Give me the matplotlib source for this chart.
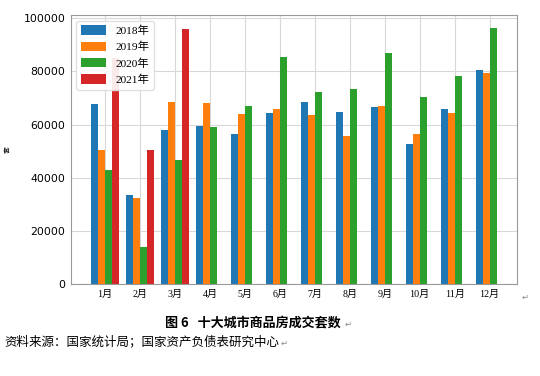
import matplotlib.pyplot as plt
import numpy as np

months = ['1月', '2月', '3月', '4月', '5月', '6月', '7月', '8月', '9月', '10月', '11月', '12月']
years = ['2018年', '2019年', '2020年', '2021年']
v2018 = [67800, 33500, 58000, 59600, 56500, 64500, 68300, 64600, 66700, 52700, 65800, 80600]
v2019 = [50500, 32300, 68600, 68000, 63800, 65700, 63400, 55500, 66800, 56300, 64400, 79400]
v2020 = [43000, 14000, 46600, 59000, 66800, 85500, 72300, 73500, 87000, 70200, 78400, 96400]
v2021 = [85000, 50300, 96000]

cjk = ['Noto Sans CJK SC', 'DejaVu Sans']
serif_cjk = ['Liberation Serif', 'Noto Sans CJK SC', 'DejaVu Sans']

fig = plt.figure(figsize=(5.4, 3.76), dpi=100)
ax = fig.add_axes([0.131, 0.245, 0.826, 0.715])

x = np.arange(len(months))
w = 0.2
series = [v2018, v2019, v2020, v2021]
colors = ['#1f77b4', '#ff7f0e', '#2ca02c', '#d62728']
for i, vals in enumerate(series):
    xi = x[:len(vals)] + (i - 1.5) * w
    ax.bar(xi, vals, w, color=colors[i], label=years[i], zorder=2)

ax.set_xticks(x)
ax.set_xticklabels(months, family=serif_cjk, fontsize=7.2)
ax.tick_params(axis='y', labelsize=7.8)
ax.tick_params(length=0, pad=4)
ax.grid(True, color='#d8d8d8', linewidth=0.8, zorder=0)
ax.set_axisbelow(True)
for s in ax.spines.values():
    s.set_color('#999999')
    s.set_linewidth(0.8)
ax.set_ylabel('套', family=cjk, fontsize=5, labelpad=8)

leg = ax.legend(loc='upper left', prop={'family': serif_cjk, 'size': 8.2},
                handlelength=2.2, handleheight=0.9, fancybox=True,
                framealpha=0.9, edgecolor='#dddddd')

fig.text(0.468, 0.139, '图 6   十大城市商品房成交套数', family=cjk, fontsize=9.4,
         fontweight='bold', ha='center', va='center')
fig.text(0.009, 0.09, '资料来源：国家统计局；国家资产负债表研究中心', family=cjk,
         fontsize=9, ha='left', va='center')
mark = dict(family=cjk, fontsize=6, color='#888888', va='center')
fig.text(0.965, 0.21, '↵', **mark)
fig.text(0.638, 0.137, '↵', **mark)
fig.text(0.52, 0.088, '↵', **mark)

fig.savefig('out.png', dpi=100)
